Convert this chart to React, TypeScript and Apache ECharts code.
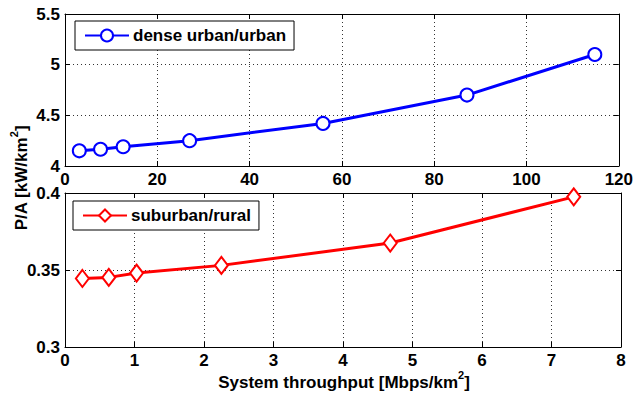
import React, { useEffect, useRef } from "react";
import * as echarts from "echarts";

const urbanX = [3.1, 7.7, 12.6, 27.0, 55.9, 87.1, 114.8];
const urbanY = [4.15, 4.165, 4.19, 4.25, 4.42, 4.70, 5.10];
const ruralX = [0.25, 0.63, 1.03, 2.25, 4.68, 7.32];
const ruralY = [0.3445, 0.3452, 0.348, 0.353, 0.3675, 0.3975];

const FONT = "Liberation Sans";
const labelStyle = { color: "#000", fontFamily: FONT, fontWeight: "bold" as const, fontSize: 17 };

function xAx(gridIndex: number, max: number, interval: number, pos: "bottom" | "top") {
  const main = pos === "bottom";
  return {
    type: "value",
    gridIndex,
    position: pos,
    min: 0,
    max,
    interval,
    axisLine: { show: true, onZero: false, lineStyle: { color: "#000", width: 1 } },
    axisTick: { show: true, inside: true, length: 5, lineStyle: { color: "#000" } },
    axisLabel: { show: main, ...labelStyle, margin: 5 },
    splitLine: { show: main, lineStyle: { color: "#333", type: [1, 3], width: 1 } },
  };
}
function yAx(gridIndex: number, min: number, max: number, interval: number, pos: "left" | "right") {
  const main = pos === "left";
  return {
    type: "value",
    gridIndex,
    position: pos,
    min,
    max,
    interval,
    axisLine: { show: true, onZero: false, lineStyle: { color: "#000", width: 1 } },
    axisTick: { show: true, inside: true, length: 5, lineStyle: { color: "#000" } },
    axisLabel: { show: main, ...labelStyle, margin: 5 },
    splitLine: { show: main, lineStyle: { color: "#333", type: [1, 3], width: 1 } },
  };
}

export default function App() {
  const ref = useRef<HTMLDivElement>(null);
  useEffect(() => {
    if (!ref.current) return;
    const chart = echarts.init(ref.current, null, { renderer: "svg" });
    const legendBase = {
      orient: "horizontal",
      borderColor: "#000",
      borderWidth: 1,
      backgroundColor: "#fff",
      padding: [6, 8, 6, 9],
      itemWidth: 44,
      itemHeight: 15,
      itemGap: 0,
      textStyle: { ...labelStyle, padding: [0, 0, 0, -1] },
      borderRadius: 0,
    };
    chart.setOption({
      animation: false,
      backgroundColor: "#fff",
      grid: [
        { left: 65, top: 14, width: 555, height: 152 },
        { left: 65, top: 193, width: 556, height: 154 },
      ],
      xAxis: [xAx(0, 120, 20, "bottom"), xAx(0, 120, 20, "top"), xAx(1, 8, 1, "bottom"), xAx(1, 8, 1, "top")],
      yAxis: [yAx(0, 4, 5.5, 0.5, "left"), yAx(0, 4, 5.5, 0.5, "right"), yAx(1, 0.3, 0.4, 0.05, "left"), yAx(1, 0.3, 0.4, 0.05, "right")],
      legend: [
        { ...legendBase, data: ["dense urban/urban"], left: 75, top: 21 },
        { ...legendBase, data: ["suburban/rural"], left: 73, top: 201 },
      ],
      series: [
        {
          name: "dense urban/urban",
          type: "line",
          xAxisIndex: 0,
          yAxisIndex: 0,
          data: urbanX.map((x, i) => [x, urbanY[i]]),
          symbol: "emptyCircle",
          symbolSize: 13,
          lineStyle: { color: "#0000ff", width: 3 },
          itemStyle: { color: "#0000ff", borderColor: "#0000ff", borderWidth: 2.8 },
        },
        {
          name: "suburban/rural",
          type: "line",
          xAxisIndex: 2,
          yAxisIndex: 2,
          data: ruralX.map((x, i) => [x, ruralY[i]]),
          symbol: "emptyDiamond",
          symbolSize: [13, 17],
          lineStyle: { color: "#ff0000", width: 3 },
          itemStyle: { color: "#ff0000", borderColor: "#ff0000", borderWidth: 2.8 },
        },
      ],
      graphic: [
        {
          type: "text",
          x: 19,
          y: 178,
          rotation: Math.PI / 2,
          style: {
            text: "{a|P/A [kW/km}{s|2}{a|]}",
            align: "center",
            verticalAlign: "middle",
            rich: {
              a: { ...labelStyle, lineHeight: 21, verticalAlign: "bottom" },
              s: { ...labelStyle, fontSize: 11, lineHeight: 21, verticalAlign: "top" },
            },
          },
        },
        {
          type: "text",
          x: 344,
          y: 380,
          style: {
            text: "{a|System throughput [Mbps/km}{s|2}{a|]}",
            align: "center",
            verticalAlign: "middle",
            rich: {
              a: { ...labelStyle, lineHeight: 21, verticalAlign: "bottom" },
              s: { ...labelStyle, fontSize: 11, lineHeight: 21, verticalAlign: "top" },
            },
          },
        },
      ],
    });
    return () => chart.dispose();
  }, []);
  return <div ref={ref} style={{ width: 636, height: 395, position: "absolute", left: 0, top: 0 }} />;
}
